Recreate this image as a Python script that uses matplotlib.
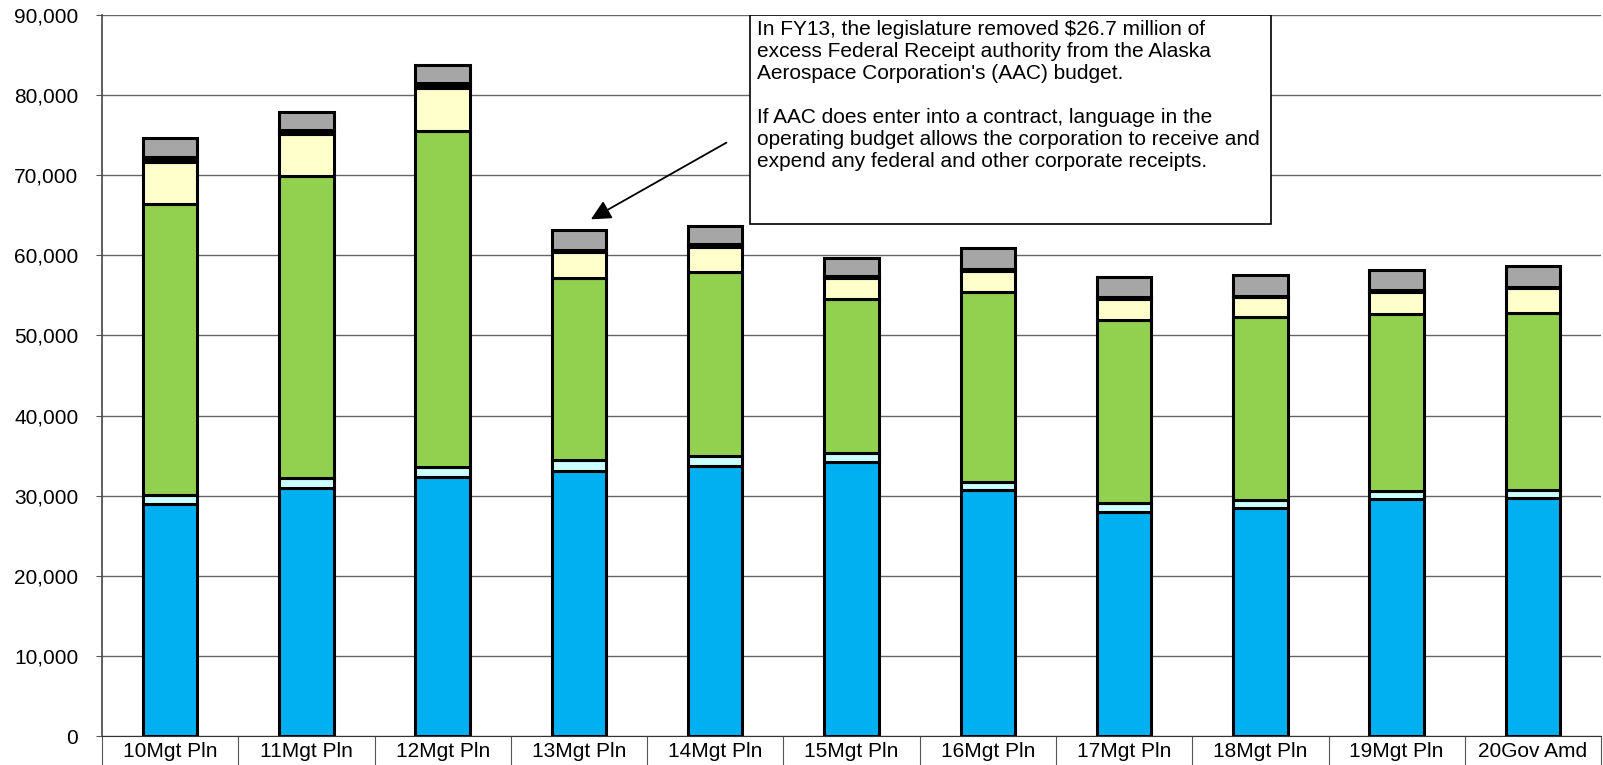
"""
Stacked operating budget chart (10Mgt Pln .. 20Gov Amd) with FY13 annotation.
Writes out.png.
"""
import matplotlib
matplotlib.use("Agg")
import matplotlib.pyplot as plt
from matplotlib.patches import Rectangle
from matplotlib.ticker import FuncFormatter, FixedLocator
import numpy as np

CATEGORIES = ["10Mgt Pln", "11Mgt Pln", "12Mgt Pln", "13Mgt Pln", "14Mgt Pln",
              "15Mgt Pln", "16Mgt Pln", "17Mgt Pln", "18Mgt Pln", "19Mgt Pln",
              "20Gov Amd"]

# segments, bottom to top
blue = [28940, 31010, 32380, 33130, 33750, 34250, 30750, 28000, 28420, 29580, 29750]
cyan = [1120, 1250, 1250, 1330, 1250, 1090, 1000, 1040, 1000, 1000, 920]
green = [36290, 37580, 41860, 22740, 22910, 19200, 23670, 22880, 22870, 22130, 22120]
yellow = [5270, 5270, 5320, 3200, 3150, 2580, 2580, 2580, 2460, 2670, 3090]
black = [600, 550, 600, 300, 300, 250, 250, 250, 200, 290, 150]
gray = [2330, 2250, 2250, 2490, 2330, 2320, 2670, 2540, 2620, 2500, 2625]

SERIES = [
    (blue, "#00B0F0"),
    (cyan, "#CCFFFF"),
    (green, "#92D050"),
    (yellow, "#FFFFCC"),
    (black, "#000000"),
    (gray, "#A6A6A6"),
]

NOTE = ("In FY13, the legislature removed $26.7 million of\n"
        "excess Federal Receipt authority from the Alaska\n"
        "Aerospace Corporation's (AAC) budget.\n"
        "\n"
        "If AAC does enter into a contract, language in the\n"
        "operating budget allows the corporation to receive and\n"
        "expend any federal and other corporate receipts.")

plt.rcParams["font.family"] = ["Liberation Sans", "DejaVu Sans"]

fig = plt.figure(figsize=(16.03, 7.65), dpi=100)
ax = fig.add_axes([0.0636, 0.0374, 0.9352, 0.9436])

x = np.arange(len(CATEGORIES))
bottom = np.zeros(len(CATEGORIES))
for vals, color in SERIES:
    vals = np.array(vals, dtype=float)
    ax.bar(x, vals, width=0.4, bottom=bottom, color=color,
           edgecolor="black", linewidth=2.2, zorder=3)
    bottom += vals

ax.set_xlim(-0.5, len(CATEGORIES) - 0.5)
ax.set_ylim(0, 90000)
ax.set_yticks(np.arange(0, 90001, 10000))
ax.yaxis.set_major_formatter(FuncFormatter(lambda v, p: f"{int(v):,}"))
ax.yaxis.grid(True, color="#666666", linewidth=1.0, zorder=0)

ax.set_xticks(x)
ax.set_xticklabels(CATEGORIES)
ax.xaxis.set_minor_locator(FixedLocator(np.arange(-0.5, len(CATEGORIES), 1.0)))
ax.tick_params(axis="x", which="major", length=0, pad=4, labelsize=15)
ax.tick_params(axis="x", which="minor", length=22, width=0.8, color="#555555",
               direction="out")
ax.tick_params(axis="y", length=4, width=0.8, color="#555555", pad=13, labelsize=15)

for side in ("top", "right"):
    ax.spines[side].set_visible(False)
ax.spines["left"].set_color("#444444")
ax.spines["left"].set_linewidth(1.2)
ax.spines["bottom"].set_color("#333333")

# annotation box
box = Rectangle((0.432, 0.710), 0.348, 0.290, transform=ax.transAxes,
                facecolor="white", edgecolor="black", linewidth=1.2, zorder=5)
ax.add_patch(box)
ax.text(0.437, 0.992, NOTE, transform=ax.transAxes, ha="left", va="top",
        fontsize=15, linespacing=1.2, zorder=6)

ax.annotate("", xy=(3.07, 64300), xytext=(4.1, 74200),
            arrowprops=dict(arrowstyle="-|>", color="black", lw=1.3,
                            mutation_scale=30), zorder=6)

fig.savefig("out.png", dpi=100)
